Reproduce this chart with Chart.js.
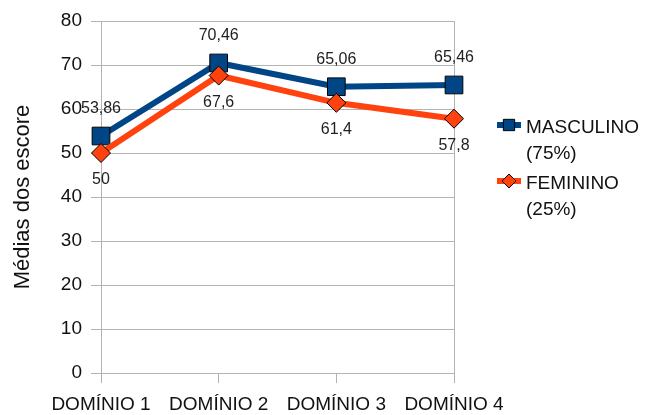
<!DOCTYPE html>
<html>
<head>
<meta charset="utf-8">
<script src="https://cdn.jsdelivr.net/npm/chart.js@4.4.1/dist/chart.umd.min.js"></script>
<style>
  html, body { margin: 0; padding: 0; background: #fff; }
  #wrap { width: 646px; height: 415px; position: relative; }
</style>
</head>
<body>
<div id="wrap"><canvas id="chart"></canvas></div>
<script>
// dados do gráfico
const categories = ['DOMÍNIO 1', 'DOMÍNIO 2', 'DOMÍNIO 3', 'DOMÍNIO 4'];
const masculino = [53.86, 70.46, 65.06, 65.46];
const feminino = [50, 67.6, 61.4, 57.8];
const legendMasculino = ['MASCULINO', '(75%)'];
const legendFeminino = ['FEMININO', '(25%)'];
const yTitle = 'Médias dos escore';

const FONT = '"Liberation Sans", Arial, sans-serif';
const GRID = '#b3b3b3';

// rótulos de valor acima (masculino) e abaixo (feminino) dos pontos
const valueLabels = {
    id: 'valueLabels',
    afterDatasetsDraw(chart) {
        const ctx = chart.ctx;
        ctx.save();
        ctx.font = '16px ' + FONT;
        ctx.fillStyle = '#222';
        ctx.textAlign = 'center';
        ctx.textBaseline = 'middle';
        chart.data.datasets.forEach((ds, i) => {
            const meta = chart.getDatasetMeta(i);
            meta.data.forEach((pt, j) => {
                const txt = String(ds.data[j]).replace('.', ',');
                const dy = ds.labelAbove ? -27 : 27;
                ctx.fillText(txt, pt.x, pt.y + dy);
            });
        });
        ctx.restore();
    }
};

// legenda à direita com texto em duas linhas
const sideLegend = {
    id: 'sideLegend',
    afterDraw(chart) {
        const ctx = chart.ctx;
        const x0 = 497;
        const rows = [125, 181];
        ctx.save();
        chart.data.datasets.forEach((ds, i) => {
            const y = rows[i];
            ctx.strokeStyle = ds.borderColor;
            ctx.lineWidth = 6;
            ctx.beginPath();
            ctx.moveTo(x0, y);
            ctx.lineTo(x0 + 24, y);
            ctx.stroke();
            ctx.fillStyle = ds.pointBackgroundColor;
            ctx.strokeStyle = '#000';
            ctx.lineWidth = 1;
            Chart.helpers.drawPoint(ctx, {
                pointStyle: ds.pointStyle,
                rotation: 0,
                borderWidth: 1,
                radius: ds.pointStyle === 'rect' ? 8 : 7
            }, x0 + 12, y);
            ctx.fillStyle = '#111';
            ctx.font = '19px ' + FONT;
            ctx.textAlign = 'left';
            ctx.textBaseline = 'middle';
            ds.legendText.forEach((t, k) => {
                ctx.fillText(t, x0 + 29, y + 3 + k * 26);
            });
        });
        ctx.restore();
    }
};

new Chart(document.getElementById('chart'), {
    type: 'line',
    data: {
        labels: categories,
        datasets: [{
            label: 'MASCULINO (75%)',
            legendText: legendMasculino,
            labelAbove: true,
            data: masculino,
            borderColor: '#004586',
            backgroundColor: '#004586',
            pointBackgroundColor: '#004586',
            pointBorderColor: '#000',
            pointBorderWidth: 1,
            pointStyle: 'rect',
            pointRadius: 12.5,
            borderWidth: 6,
            tension: 0,
            order: 1
        }, {
            label: 'FEMININO (25%)',
            legendText: legendFeminino,
            labelAbove: false,
            data: feminino,
            borderColor: '#ff420e',
            backgroundColor: '#ff420e',
            pointBackgroundColor: '#ff420e',
            pointBorderColor: '#000',
            pointBorderWidth: 1,
            pointStyle: 'rectRot',
            pointRadius: 9.5,
            borderWidth: 6,
            tension: 0,
            order: 0
        }]
    },
    options: {
        responsive: true,
        maintainAspectRatio: false,
        animation: false,
        layout: {
            padding: { left: 4, top: 21, right: 192, bottom: 0 }
        },
        plugins: {
            legend: { display: false },
            tooltip: { enabled: false }
        },
        scales: {
            x: {
                offset: false,
                grid: {
                    color: (c) => (c.index === 0 || c.index === categories.length - 1) ? GRID : 'rgba(0,0,0,0)',
                    tickColor: GRID,
                    tickLength: 10,
                    lineWidth: 1
                },
                border: { display: false },
                ticks: {
                    color: '#111',
                    font: { family: FONT, size: 19 },
                    padding: 10,
                    maxRotation: 0,
                    autoSkip: false
                },
                afterFit: (s) => { s.height = 42; }
            },
            y: {
                min: 0,
                max: 80,
                grid: {
                    color: GRID,
                    tickLength: 10,
                    lineWidth: 1
                },
                border: { display: true, color: GRID },
                ticks: {
                    stepSize: 10,
                    color: '#111',
                    font: { family: FONT, size: 19 },
                    padding: 9
                },
                title: {
                    display: true,
                    text: yTitle,
                    color: '#111',
                    font: { family: FONT, size: 22 },
                    padding: { top: 6, bottom: 0 }
                },
                afterFit: (s) => { s.width = 97; }
            }
        }
    },
    plugins: [valueLabels, sideLegend]
});
</script>
</body>
</html>
